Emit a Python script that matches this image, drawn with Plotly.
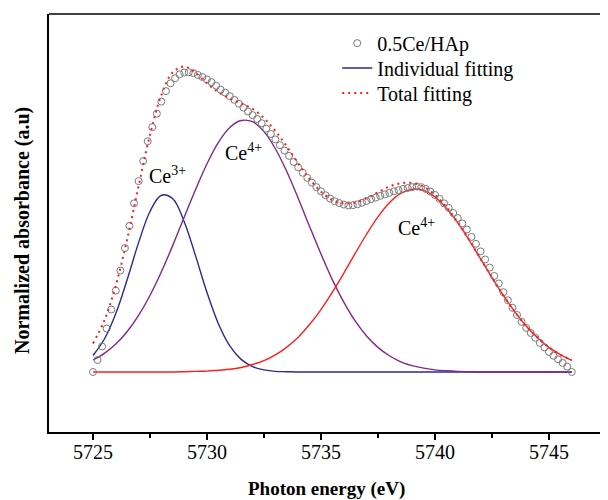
import numpy as np
import plotly.graph_objects as go

# Measured spectrum (0.5Ce/HAp), 0.2 eV grid
energy = np.round(5725.0 + 0.2 * np.arange(106), 1)
absorbance = [
    0.0, 0.04, 0.085, 0.145, 0.208, 0.271, 0.338, 0.413, 0.487, 0.562,
    0.636, 0.703, 0.769, 0.816, 0.861, 0.901, 0.936, 0.962, 0.979, 0.992,
    0.998, 0.999, 0.996, 0.99, 0.983, 0.975, 0.966, 0.954, 0.941, 0.931,
    0.919, 0.907, 0.894, 0.881, 0.868, 0.856, 0.843, 0.829, 0.811, 0.793,
    0.775, 0.756, 0.738, 0.72, 0.7, 0.682, 0.664, 0.647, 0.631, 0.616,
    0.602, 0.589, 0.578, 0.569, 0.563, 0.558, 0.555, 0.556, 0.559, 0.564,
    0.57, 0.576, 0.581, 0.587, 0.592, 0.597, 0.602, 0.606, 0.61, 0.613,
    0.616, 0.618, 0.616, 0.61, 0.601, 0.59, 0.577, 0.562, 0.547, 0.53,
    0.513, 0.495, 0.475, 0.45, 0.427, 0.402, 0.375, 0.348, 0.32, 0.295,
    0.266, 0.239, 0.214, 0.19, 0.167, 0.147, 0.13, 0.114, 0.097, 0.082,
    0.067, 0.054, 0.042, 0.03, 0.018, 0.0,
]

# Fitted components, 0.5 eV grid
fit_energy = np.round(5725.0 + 0.5 * np.arange(43), 1)
ce3_fit = [
    0.055, 0.110, 0.195, 0.308, 0.431, 0.535, 0.589, 0.577, 0.501, 0.387,
    0.265, 0.161, 0.087, 0.042, 0.018, 0.007, 0.002, 0.001, 0.0, 0.0,
    0.0, 0.0, 0.0, 0.0, 0.0, 0.0, 0.0, 0.0, 0.0, 0.0,
    0.0, 0.0, 0.0, 0.0, 0.0, 0.0, 0.0, 0.0, 0.0, 0.0,
    0.0, 0.0, 0.0,
]
ce4a_fit = [
    0.040, 0.062, 0.093, 0.135, 0.189, 0.255, 0.334, 0.422, 0.516, 0.608,
    0.694, 0.765, 0.815, 0.838, 0.834, 0.801, 0.744, 0.668, 0.579, 0.485,
    0.393, 0.307, 0.233, 0.170, 0.120, 0.082, 0.054, 0.034, 0.021, 0.013,
    0.007, 0.004, 0.002, 0.001, 0.0, 0.0, 0.0, 0.0, 0.0, 0.0,
    0.0, 0.0, 0.0,
]
ce4b_fit = [
    0.0, 0.0, 0.0, 0.0, 0.0, 0.0, 0.0, 0.0, 0.001, 0.002,
    0.003, 0.006, 0.009, 0.015, 0.025, 0.038, 0.057, 0.083, 0.116, 0.158,
    0.208, 0.266, 0.329, 0.395, 0.459, 0.517, 0.564, 0.595, 0.609, 0.605,
    0.583, 0.546, 0.497, 0.439, 0.377, 0.315, 0.255, 0.201, 0.153, 0.114,
    0.082, 0.058, 0.039,
]
total_fit = [
    0.095, 0.172, 0.288, 0.443, 0.620, 0.790, 0.923, 0.999, 1.018, 0.997,
    0.962, 0.932, 0.911, 0.895, 0.877, 0.846, 0.803, 0.752, 0.695, 0.643,
    0.601, 0.573, 0.562, 0.565, 0.579, 0.599, 0.618, 0.629, 0.630, 0.618,
    0.590, 0.550, 0.499, 0.440, 0.377, 0.315, 0.255, 0.201, 0.153, 0.114,
    0.082, 0.058, 0.039,
]

labels = [("Ce<sup>3+</sup>", 5728.25, 0.657),
          ("Ce<sup>4+</sup>", 5731.62, 0.733),
          ("Ce<sup>4+</sup>", 5739.21, 0.483)]

FONT = "Liberation Serif"
BLUE = "#2A2A96"
PURPLE = "#82288C"
RED = "#FF1E1E"

fig = go.Figure()
fig.add_trace(go.Scatter(x=fit_energy, y=ce3_fit, mode="lines", line=dict(color=BLUE, width=1.4, shape="spline"),
                         name="Individual fitting", legend="legend2"))
fig.add_trace(go.Scatter(x=fit_energy, y=ce4a_fit, mode="lines", line=dict(color=PURPLE, width=1.4, shape="spline"),
                         showlegend=False))
fig.add_trace(go.Scatter(x=fit_energy, y=ce4b_fit, mode="lines", line=dict(color=RED, width=1.4, shape="spline"),
                         showlegend=False))
fig.add_trace(go.Scatter(x=energy, y=absorbance, mode="markers",
                         marker=dict(symbol="circle-open", size=7, color="#7A7A7A", line=dict(width=1, color="#7A7A7A")),
                         name="0.5Ce/HAp", legend="legend"))
fig.add_trace(go.Scatter(x=fit_energy, y=total_fit, mode="lines",
                         line=dict(color=RED, width=2, dash="2px,4px", shape="spline"),
                         name="Total fitting", legend="legend3"))

for txt, x, y in labels:
    fig.add_annotation(x=x, y=y, text=txt, showarrow=False, font=dict(family=FONT, size=20, color="black"))

fig.add_annotation(xref="paper", yref="paper", x=0.497, y=-0.136, xanchor="center", yanchor="middle",
                   text="<b>Photon energy (eV)</b>",
                   showarrow=False, font=dict(family=FONT, size=19, color="black"))
fig.add_annotation(xref="paper", yref="paper", x=-0.0465, y=0.481, xanchor="center", yanchor="middle",
                   text="<b>Normalized absorbance (a.u)</b>",
                   textangle=-90, showarrow=False, font=dict(family=FONT, size=20, color="black"))

fig.add_shape(type="line", xref="paper", yref="paper", x0=0, x1=1, y0=1, y1=1,
              line=dict(color="black", width=1.5))

leg_common = dict(x=0.5156, xanchor="left", yanchor="top", bgcolor="rgba(0,0,0,0)",
                  font=dict(family=FONT, size=20, color="black"))

fig.update_layout(
    width=600, height=492,
    margin=dict(l=41, r=0, t=6, b=68),
    paper_bgcolor="white", plot_bgcolor="white",
    font=dict(family=FONT, color="black"),
    showlegend=True,
    legend=dict(y=0.977, **leg_common),
    legend2=dict(y=0.9175, **leg_common),
    legend3=dict(y=0.8577, **leg_common),
    xaxis=dict(range=[5723.07, 5747.59], tick0=5725, dtick=5, ticks="outside", ticklen=6, tickwidth=1.5,
               tickcolor="black", showline=True, linecolor="black", linewidth=1.5, showgrid=False, zeroline=False,
               tickfont=dict(family=FONT, size=20, color="black"),
               minor=dict(dtick=2.5, tick0=5725, ticks="outside", ticklen=4, tickwidth=1.5, tickcolor="black", showgrid=False)),
    yaxis=dict(range=[-0.2, 1.193], showticklabels=False, ticks="", showline=True, linecolor="black",
               linewidth=1.5, showgrid=False, zeroline=False),
)
try:
    fig.update_xaxes(ticklabelstandoff=-5)
except Exception:
    pass

fig.write_html("out.html")
